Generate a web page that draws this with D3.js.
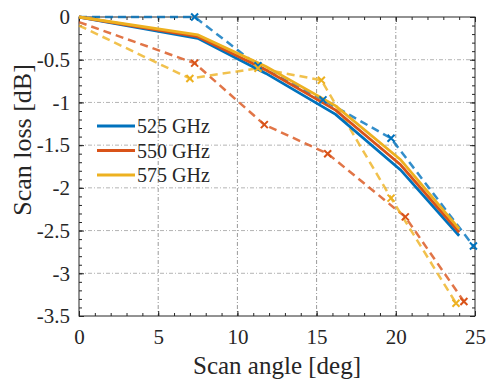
<!DOCTYPE html>
<html>
<head>
<meta charset="utf-8">
<script src="https://cdn.jsdelivr.net/npm/d3@7"></script>
<style>
  body { margin: 0; background: #fff; }
  svg text { font-family: "Liberation Serif", "DejaVu Serif", serif !important; fill: #262626; }
</style>
</head>
<body>
<div id="chart"></div>
<script>
/* CONSTANTS */
const width = 486,
  height = 381,
  margin = { top: 17, bottom: 65, left: 79, right: 11 };

/* DATA */
// simulated curves (solid)
const simAngles = [0, 7.5, 11.8, 16.2, 20.3, 24];
const sim525 = [0, -0.25, -0.66, -1.14, -1.79, -2.56];
const sim550 = [0, -0.23, -0.62, -1.09, -1.73, -2.52];
const sim575 = [0, -0.21, -0.58, -1.04, -1.67, -2.48];

// measured curves (dashed, x markers)
const meas525Angles = [0, 7.3, 11.3, 15.4, 19.7, 24.9];
const meas525 = [0, 0, -0.57, -0.97, -1.42, -2.68];
const meas550Angles = [0, 7.3, 11.7, 15.7, 20.6, 24.3];
const meas550 = [-0.06, -0.54, -1.26, -1.6, -2.34, -3.33];
const meas575Angles = [0, 7.0, 11.3, 15.3, 19.7, 23.8];
const meas575 = [-0.1, -0.72, -0.6, -0.74, -2.12, -3.35];

const legendLabels = ["525 GHz", "550 GHz", "575 GHz"];
const colors = ["#0072BD", "#D95319", "#EDB120"];
const xTicks = [0, 5, 10, 15, 20, 25];
const yTicks = [0, -0.5, -1, -1.5, -2, -2.5, -3, -3.5];

/* SCALES */
const xScale = d3.scaleLinear()
  .domain([0, 25])
  .range([margin.left, width - margin.right]);

const yScale = d3.scaleLinear()
  .domain([-3.5, 0])
  .range([height - margin.bottom, margin.top]);

const svg = d3.select("#chart")
  .append("svg")
  .attr("width", width)
  .attr("height", height);

// grid lines
svg.append("g")
  .selectAll("line")
  .data(xTicks.slice(1, -1))
  .join("line")
  .attr("x1", d => xScale(d))
  .attr("x2", d => xScale(d))
  .attr("y1", margin.top)
  .attr("y2", height - margin.bottom)
  .attr("stroke", "#9a9a9a")
  .attr("stroke-width", 1)
  .attr("stroke-dasharray", "4,2,1,2");

svg.append("g")
  .selectAll("line")
  .data(yTicks.slice(1, -1))
  .join("line")
  .attr("x1", margin.left)
  .attr("x2", width - margin.right)
  .attr("y1", d => yScale(d))
  .attr("y2", d => yScale(d))
  .attr("stroke", "#b4b4b4")
  .attr("stroke-width", 1)
  .attr("stroke-dasharray", "4,2,1,2");

/* AXES */
const axisColor = "#262626";
function styleAxis(g) {
  g.attr("font-family", null);
  g.select(".domain").remove();
  g.selectAll("line").attr("stroke", axisColor);
}

// bottom
svg.append("g")
  .attr("transform", `translate(0,${height - margin.bottom})`)
  .call(d3.axisBottom(xScale).tickValues(xTicks).tickSize(-5).tickPadding(13).tickFormat(d3.format("d")))
  .call(styleAxis)
  .selectAll("text")
  .style("font-size", "21px");

svg.append("g")
  .attr("transform", `translate(0,${height - margin.bottom})`)
  .call(d3.axisBottom(xScale).tickValues(d3.range(0, 26, 1)).tickSize(-3).tickFormat(""))
  .call(styleAxis);

// top
svg.append("g")
  .attr("transform", `translate(0,${margin.top})`)
  .call(d3.axisTop(xScale).tickValues(xTicks).tickSize(-5).tickFormat(""))
  .call(styleAxis);
svg.append("g")
  .attr("transform", `translate(0,${margin.top})`)
  .call(d3.axisTop(xScale).tickValues(d3.range(0, 26, 1)).tickSize(-3).tickFormat(""))
  .call(styleAxis);

// left
svg.append("g")
  .attr("transform", `translate(${margin.left},0)`)
  .call(d3.axisLeft(yScale).tickValues(yTicks).tickSize(-5).tickPadding(9).tickFormat(d => d))
  .call(styleAxis)
  .selectAll("text")
  .style("font-size", "21px");

svg.append("g")
  .attr("transform", `translate(${margin.left},0)`)
  .call(d3.axisLeft(yScale).tickValues(d3.range(-35, 1, 1).map(d => d / 10)).tickSize(-3).tickFormat(""))
  .call(styleAxis);

// right
svg.append("g")
  .attr("transform", `translate(${width - margin.right},0)`)
  .call(d3.axisRight(yScale).tickValues(yTicks).tickSize(-5).tickFormat(""))
  .call(styleAxis);
svg.append("g")
  .attr("transform", `translate(${width - margin.right},0)`)
  .call(d3.axisRight(yScale).tickValues(d3.range(-35, 1, 1).map(d => d / 10)).tickSize(-3).tickFormat(""))
  .call(styleAxis);

// frame
svg.append("rect")
  .attr("x", margin.left)
  .attr("y", margin.top)
  .attr("width", width - margin.left - margin.right)
  .attr("height", height - margin.top - margin.bottom)
  .attr("fill", "none")
  .attr("stroke", axisColor)
  .attr("stroke-width", 1);

/* LINES */
const line = d3.line()
  .x(d => xScale(d[0]))
  .y(d => yScale(d[1]));

const measured = [
  d3.zip(meas525Angles, meas525),
  d3.zip(meas550Angles, meas550),
  d3.zip(meas575Angles, meas575)
];
const simulated = [
  d3.zip(simAngles, sim525),
  d3.zip(simAngles, sim550),
  d3.zip(simAngles, sim575)
];

// dashed measured lines
measured.forEach((pts, i) => {
  svg.append("path")
    .datum(pts)
    .attr("d", line)
    .attr("fill", "none")
    .attr("stroke", colors[i])
    .attr("stroke-opacity", 0.8)
    .attr("stroke-width", 2.5)
    .attr("stroke-dasharray", "8,5");
});

// solid simulated lines
simulated.forEach((pts, i) => {
  svg.append("path")
    .datum(pts)
    .attr("d", line)
    .attr("fill", "none")
    .attr("stroke", colors[i])
    .attr("stroke-width", 2.8);
});

// x markers
const m = 3.5;
measured.forEach((pts, i) => {
  svg.append("g")
    .selectAll("path")
    .data(pts.slice(1))
    .join("path")
    .attr("d", d => {
      const x = xScale(d[0]), y = yScale(d[1]);
      return `M${x - m},${y - m}L${x + m},${y + m}M${x - m},${y + m}L${x + m},${y - m}`;
    })
    .attr("stroke", colors[i])
    .attr("stroke-width", 2);
});

/* LEGEND */
const legend = svg.append("g");
legendLabels.forEach((label, i) => {
  const y = 126 + i * 24.5;
  legend.append("line")
    .attr("x1", 97)
    .attr("x2", 135)
    .attr("y1", y)
    .attr("y2", y)
    .attr("stroke", colors[i])
    .attr("stroke-width", 2.8);
  legend.append("text")
    .attr("x", 137)
    .attr("y", y + 7)
    .style("font-size", "20px")
    .text(label);
});

/* TITLES */
svg.append("text")
  .attr("x", (margin.left + width - margin.right) / 2)
  .attr("y", 374)
  .attr("text-anchor", "middle")
  .style("font-size", "25px")
  .text("Scan angle [deg]");

svg.append("text")
  .attr("transform", "translate(31,140) rotate(-90)")
  .attr("text-anchor", "middle")
  .style("font-size", "26px")
  .text("Scan loss [dB]");
</script>
</body>
</html>
